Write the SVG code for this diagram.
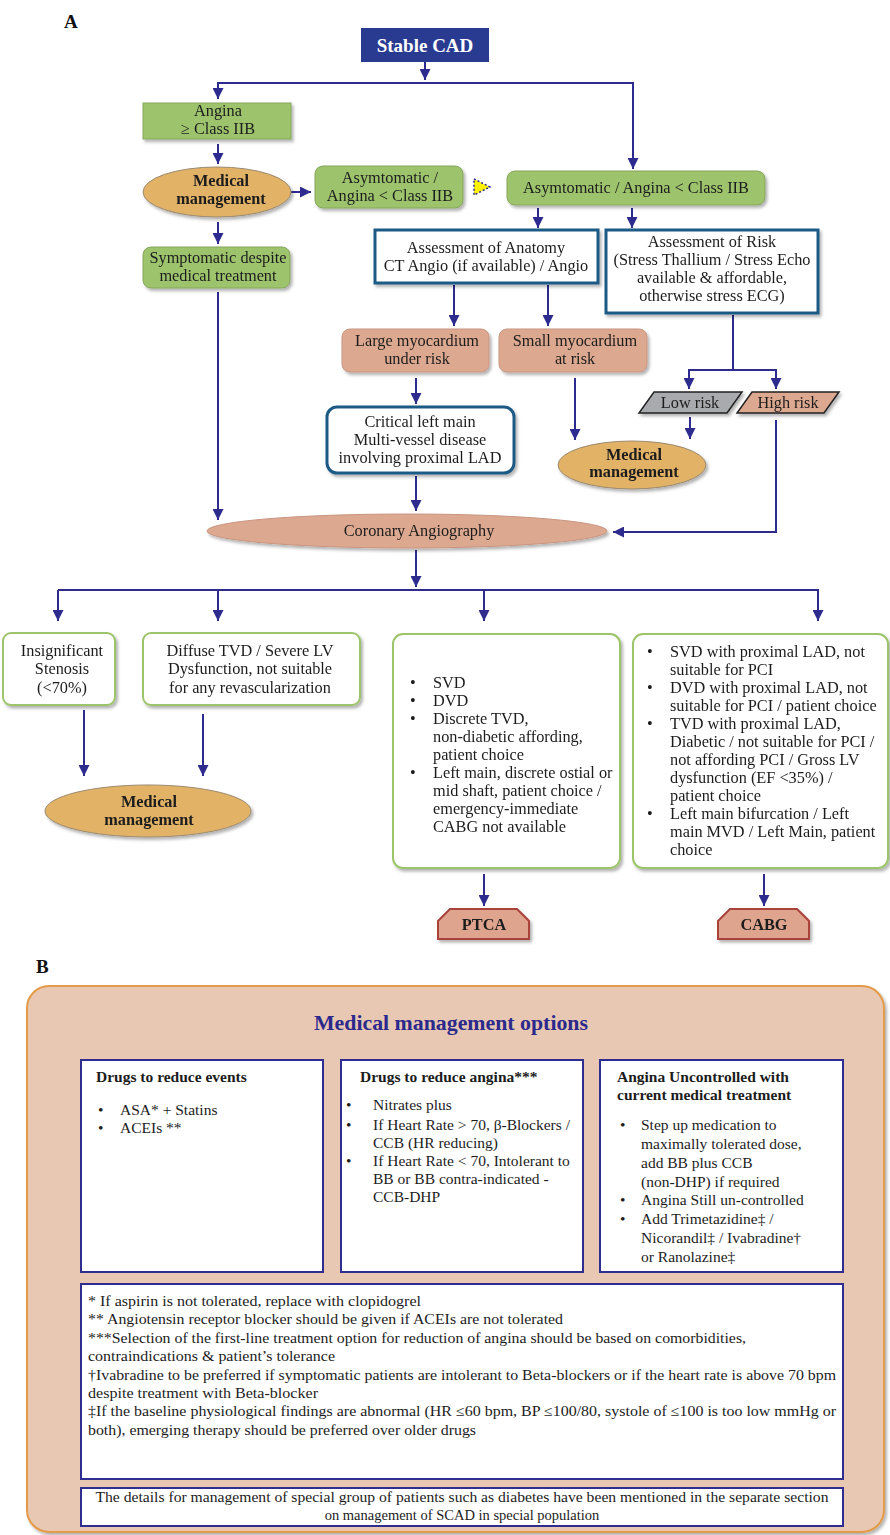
<svg xmlns="http://www.w3.org/2000/svg" width="890" height="1535" viewBox="0 0 890 1535">
<style>
.t{font-family:"Liberation Serif","Times New Roman",serif;font-size:16.3px;fill:#1c1c1c}
.c{text-anchor:middle}
.b{font-weight:bold}
.s{font-size:15.5px}
.lbl{font-family:"Liberation Serif","Times New Roman",serif;font-size:19px;font-weight:bold;fill:#111}
.green{fill:#9DC46D;stroke:#86A65C;stroke-width:1}
.salmon{fill:#DCA890;stroke:#C99580;stroke-width:1}
.orange{fill:#E2B266;stroke:#9A8A70;stroke-width:1}
.teal{fill:#fff;stroke:#1F5A86;stroke-width:3}
.wg{fill:#fff;stroke:#9CC46B;stroke-width:2}
.proc{fill:#DFA48E;stroke:#A8423A;stroke-width:2}
.conn{fill:none;stroke:#2E2B8E;stroke-width:2}
.bx{fill:#fff;stroke:#2F2E90;stroke-width:2}
.fn{font-family:"Liberation Serif","Times New Roman",serif;font-size:14.5px;fill:#1c1c1c}
</style>
<defs>
<marker id="ah" viewBox="0 0 10 10" refX="10" refY="5" markerWidth="11" markerHeight="11" markerUnits="userSpaceOnUse" orient="auto">
<path d="M0,0 L10,5 L0,10 z" fill="#2E2B8E"/>
</marker>
<filter id="sh" x="-10%" y="-10%" width="130%" height="140%">
<feDropShadow dx="2" dy="2.5" stdDeviation="1.5" flood-color="#000" flood-opacity="0.3"/>
</filter>
</defs>
<rect width="890" height="1535" fill="#fff"/>
<text x="64" y="28" class="lbl">A</text>
<text x="36" y="973" class="lbl">B</text>

<g id="connectors">
<path class="conn" d="M425,62 V80" marker-end="url(#ah)"/>
<path class="conn" d="M425,83 H218 V99" marker-end="url(#ah)"/>
<path class="conn" d="M425,83 H633 V169" marker-end="url(#ah)"/>
<path class="conn" d="M218,144 V164" marker-end="url(#ah)"/>
<path class="conn" d="M291,192 H311" marker-end="url(#ah)"/>
<path class="conn" d="M218,222 V244" marker-end="url(#ah)"/>
<path class="conn" d="M218,292 V520" marker-end="url(#ah)"/>
<path class="conn" d="M538,208 V228" marker-end="url(#ah)"/>
<path class="conn" d="M632,208 V228" marker-end="url(#ah)"/>
<path class="conn" d="M454,285 V326" marker-end="url(#ah)"/>
<path class="conn" d="M548,285 V326" marker-end="url(#ah)"/>
<path class="conn" d="M733,315 V370 H689 V389" marker-end="url(#ah)"/>
<path class="conn" d="M733,370 H776 V389" marker-end="url(#ah)"/>
<path class="conn" d="M416,378 V404" marker-end="url(#ah)"/>
<path class="conn" d="M575,378 V440" marker-end="url(#ah)"/>
<path class="conn" d="M690,417 V439" marker-end="url(#ah)"/>
<path class="conn" d="M776,420 V532 H613" marker-end="url(#ah)"/>
<path class="conn" d="M416,476 V511" marker-end="url(#ah)"/>
<path class="conn" d="M416,550 V587" marker-end="url(#ah)"/>
<path class="conn" d="M58,590 H818 V621" marker-end="url(#ah)"/>
<path class="conn" d="M58,590 V621" marker-end="url(#ah)"/>
<path class="conn" d="M218,590 V621" marker-end="url(#ah)"/>
<path class="conn" d="M484,590 V621" marker-end="url(#ah)"/>
<path class="conn" d="M84,710 V776" marker-end="url(#ah)"/>
<path class="conn" d="M203,714 V776" marker-end="url(#ah)"/>
<path class="conn" d="M484,874 V906" marker-end="url(#ah)"/>
<path class="conn" d="M764,874 V906" marker-end="url(#ah)"/>
</g>

<g id="stable-cad">
<rect x="361" y="28" width="128" height="34" fill="#293A91"/>
<text x="425" y="52" class="t c b" style="fill:#fff;font-size:19px">Stable CAD</text>
</g>
<g id="angina-class-iib" filter="url(#sh)">
<rect x="143" y="103" width="148" height="36" class="green"/>
<text x="218" y="116" class="t c">Angina</text>
<text x="218" y="134" class="t c">≥ Class IIB</text>
</g>
<g id="medical-management-1" filter="url(#sh)">
<ellipse cx="217" cy="192" rx="74" ry="25" class="orange"/>
<text x="221" y="186" class="t c b">Medical</text>
<text x="221" y="204" class="t c b">management</text>
</g>
<g id="asymptomatic-small" filter="url(#sh)">
<rect x="315" y="166" width="148" height="42" rx="8" class="green"/>
<text x="390" y="183" class="t c">Asymtomatic /</text>
<text x="390" y="201" class="t c">Angina &lt; Class IIB</text>
</g>
<g id="dotted-triangle">
<polygon points="474,179 490,187 474,195" fill="#FFF200" stroke="#2E2B8E" stroke-width="1.5" stroke-dasharray="2,2"/>
</g>
<g id="asymptomatic-main" filter="url(#sh)">
<rect x="507" y="171" width="258" height="34" rx="8" class="green"/>
<text x="636" y="193" class="t c">Asymtomatic / Angina &lt; Class IIB</text>
</g>
<g id="symptomatic" filter="url(#sh)">
<rect x="143" y="247" width="147" height="41" rx="8" class="green"/>
<text x="218" y="263" class="t c">Symptomatic despite</text>
<text x="218" y="281" class="t c">medical treatment</text>
</g>
<g id="assessment-anatomy" filter="url(#sh)">
<rect x="375" y="230" width="223" height="53" class="teal"/>
<text x="486" y="253" class="t c">Assessment of Anatomy</text>
<text x="486" y="271" class="t c">CT Angio (if available) / Angio</text>
</g>
<g id="assessment-risk" filter="url(#sh)">
<rect x="606" y="230" width="212" height="83" class="teal"/>
<text x="712" y="247" class="t c">Assessment of Risk</text>
<text x="712" y="265" class="t c">(Stress Thallium / Stress Echo</text>
<text x="712" y="283" class="t c">available &amp; affordable,</text>
<text x="712" y="301" class="t c">otherwise stress ECG)</text>
</g>
<g id="large-myocardium" filter="url(#sh)">
<rect x="342" y="329" width="147" height="43" rx="8" class="salmon"/>
<text x="417" y="346" class="t c">Large myocardium</text>
<text x="417" y="364" class="t c">under risk</text>
</g>
<g id="small-myocardium" filter="url(#sh)">
<rect x="499" y="329" width="148" height="43" rx="8" class="salmon"/>
<text x="575" y="346" class="t c">Small myocardium</text>
<text x="575" y="364" class="t c">at risk</text>
</g>
<g id="critical-left-main" filter="url(#sh)">
<rect x="327" y="407" width="187" height="66" rx="10" class="teal"/>
<text x="420" y="427" class="t c">Critical left main</text>
<text x="420" y="445" class="t c">Multi-vessel disease</text>
<text x="420" y="463" class="t c">involving proximal LAD</text>
</g>
<g id="low-risk" filter="url(#sh)">
<polygon points="654,392 742,392 727,413 639,413" fill="#A8AAAD" stroke="#222" stroke-width="1.5"/>
<text x="690" y="408" class="t c">Low risk</text>
</g>
<g id="high-risk" filter="url(#sh)">
<polygon points="752,392 839,392 824,413 737,413" fill="#DCA890" stroke="#222" stroke-width="1.5"/>
<text x="788" y="408" class="t c">High risk</text>
</g>
<g id="medical-management-2" filter="url(#sh)">
<ellipse cx="632" cy="465" rx="74" ry="24" class="orange"/>
<text x="634" y="460" class="t c b">Medical</text>
<text x="634" y="477" class="t c b">management</text>
</g>
<g id="coronary-angiography" filter="url(#sh)">
<ellipse cx="407" cy="531" rx="200" ry="17" class="salmon"/>
<text x="419" y="536" class="t c">Coronary Angiography</text>
</g>
<g id="insignificant-stenosis" filter="url(#sh)">
<rect x="3" y="633" width="112" height="72" rx="8" class="wg"/>
<text x="62" y="656" class="t c">Insignificant</text>
<text x="62" y="674" class="t c">Stenosis</text>
<text x="62" y="693" class="t c">(&lt;70%)</text>
</g>
<g id="diffuse-tvd" filter="url(#sh)">
<rect x="143" y="633" width="217" height="72" rx="8" class="wg"/>
<text x="250" y="656" class="t c">Diffuse TVD / Severe LV</text>
<text x="250" y="674" class="t c">Dysfunction, not suitable</text>
<text x="250" y="693" class="t c">for any revascularization</text>
</g>
<g id="medical-management-3" filter="url(#sh)">
<ellipse cx="148" cy="811" rx="103" ry="26" class="orange"/>
<text x="149" y="807" class="t c b">Medical</text>
<text x="149" y="825" class="t c b">management</text>
</g>
<g id="ptca-criteria" filter="url(#sh)">
<rect x="393" y="634" width="227" height="234" rx="10" class="wg"/>
<g class="t">
<text x="410" y="688">•</text><text x="433" y="688">SVD</text>
<text x="410" y="706">•</text><text x="433" y="706">DVD</text>
<text x="410" y="724">•</text><text x="433" y="724">Discrete TVD,</text>
<text x="433" y="742">non-diabetic affording,</text>
<text x="433" y="760">patient choice</text>
<text x="410" y="778">•</text><text x="433" y="778">Left main, discrete ostial or</text>
<text x="433" y="796">mid shaft, patient choice /</text>
<text x="433" y="814">emergency-immediate</text>
<text x="433" y="832">CABG not available</text>
</g>
</g>
<g id="cabg-criteria" filter="url(#sh)">
<rect x="633" y="634" width="255" height="234" rx="10" class="wg"/>
<g class="t">
<text x="647" y="657">•</text><text x="670" y="657">SVD with proximal LAD, not</text>
<text x="670" y="675">suitable for PCI</text>
<text x="647" y="693">•</text><text x="670" y="693">DVD with proximal LAD, not</text>
<text x="670" y="711">suitable for PCI / patient choice</text>
<text x="647" y="729">•</text><text x="670" y="729">TVD with proximal LAD,</text>
<text x="670" y="747">Diabetic / not suitable for PCI /</text>
<text x="670" y="765">not affording PCI / Gross LV</text>
<text x="670" y="783">dysfunction (EF &lt;35%) /</text>
<text x="670" y="801">patient choice</text>
<text x="647" y="819">•</text><text x="670" y="819">Left main bifurcation / Left</text>
<text x="670" y="837">main MVD / Left Main, patient</text>
<text x="670" y="855">choice</text>
</g>
</g>
<g id="ptca" filter="url(#sh)">
<polygon points="438,939 438,921 450,909 517,909 529,921 529,939" class="proc"/>
<text x="484" y="930" class="t c b">PTCA</text>
</g>
<g id="cabg" filter="url(#sh)">
<polygon points="718,939 718,921 730,909 797,909 809,921 809,939" class="proc"/>
<text x="764" y="930" class="t c b">CABG</text>
</g>

<g id="medical-management-options">
<rect x="27" y="986" width="857" height="546" rx="22" fill="#E9C8B3" stroke="#E39B48" stroke-width="2" filter="url(#sh)"/>
<text x="451" y="1030" class="t c b" style="font-size:21px;fill:#2B2A8C" textLength="274" lengthAdjust="spacingAndGlyphs">Medical management options</text>
</g>
<g id="drugs-events">
<rect x="81" y="1060" width="242" height="212" class="bx"/>
<text x="96" y="1082" class="t s b">Drugs to reduce events</text>
<g class="t s">
<text x="98" y="1115">•</text><text x="120" y="1115">ASA* + Statins</text>
<text x="98" y="1133">•</text><text x="120" y="1133">ACEIs **</text>
</g>
</g>
<g id="drugs-angina">
<rect x="341" y="1060" width="242" height="212" class="bx"/>
<text x="360" y="1082" class="t s b">Drugs to reduce angina***</text>
<g class="t s">
<text x="346" y="1110">•</text><text x="373" y="1110">Nitrates plus</text>
<text x="346" y="1130">•</text><text x="373" y="1130">If Heart Rate &gt; 70, β-Blockers /</text>
<text x="373" y="1148">CCB (HR reducing)</text>
<text x="346" y="1166">•</text><text x="373" y="1166">If Heart Rate &lt; 70, Intolerant to</text>
<text x="373" y="1184">BB or BB contra-indicated -</text>
<text x="373" y="1202">CCB-DHP</text>
</g>
</g>
<g id="angina-uncontrolled">
<rect x="600" y="1060" width="243" height="212" class="bx"/>
<text x="617" y="1082" class="t s b">Angina Uncontrolled with</text>
<text x="617" y="1100" class="t s b">current medical treatment</text>
<g class="t s">
<text x="620" y="1130">•</text><text x="641" y="1130">Step up medication to</text>
<text x="641" y="1149">maximally tolerated dose,</text>
<text x="641" y="1168">add BB plus CCB</text>
<text x="641" y="1187">(non-DHP) if required</text>
<text x="620" y="1205">•</text><text x="641" y="1205">Angina Still un-controlled</text>
<text x="620" y="1224">•</text><text x="641" y="1224">Add Trimetazidine‡ /</text>
<text x="641" y="1243">Nicorandil‡ / Ivabradine†</text>
<text x="641" y="1262">or Ranolazine‡</text>
</g>
</g>
<g id="footnotes">
<rect x="81" y="1284" width="762" height="195" class="bx"/>
<g class="fn">
<text x="88" y="1306" textLength="333" lengthAdjust="spacingAndGlyphs">* If aspirin is not tolerated, replace with clopidogrel</text>
<text x="88" y="1324" textLength="475" lengthAdjust="spacingAndGlyphs">** Angiotensin receptor blocker should be given if ACEIs are not tolerated</text>
<text x="88" y="1343" textLength="658" lengthAdjust="spacingAndGlyphs">***Selection of the first-line treatment option for reduction of angina should be based on comorbidities,</text>
<text x="88" y="1361" textLength="247" lengthAdjust="spacingAndGlyphs">contraindications &amp; patient’s tolerance</text>
<text x="88" y="1380" textLength="748" lengthAdjust="spacingAndGlyphs">†Ivabradine to be preferred if symptomatic patients are intolerant to Beta-blockers or if the heart rate is above 70 bpm</text>
<text x="88" y="1398" textLength="230" lengthAdjust="spacingAndGlyphs">despite treatment with Beta-blocker</text>
<text x="88" y="1416" textLength="748" lengthAdjust="spacingAndGlyphs">‡If the baseline physiological findings are abnormal (HR ≤60 bpm, BP ≤100/80, systole of ≤100 is too low mmHg or</text>
<text x="88" y="1435" textLength="388" lengthAdjust="spacingAndGlyphs">both), emerging therapy should be preferred over older drugs</text>
</g>
</g>
<g id="special-groups">
<rect x="81" y="1488" width="762" height="38" class="bx"/>
<text x="462" y="1502" class="fn c" textLength="733" lengthAdjust="spacingAndGlyphs">The details for management of special group of patients such as diabetes have been mentioned in the separate section</text>
<text x="462" y="1520" class="fn c">on management of SCAD in special population</text>
</g>
</svg>
